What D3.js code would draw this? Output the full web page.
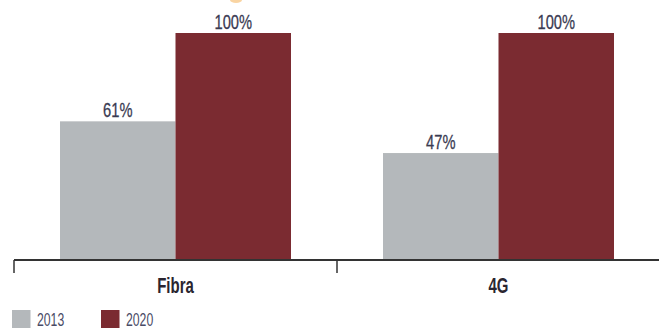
<!DOCTYPE html>
<html><head><meta charset="utf-8">
<script src="https://cdn.jsdelivr.net/npm/d3@7"></script>
<style>html,body{margin:0;padding:0;background:#fff;}svg{display:block;}</style>
</head><body>
<svg id="c" width="659" height="330"></svg>
<script>
const categories = ["Fibra", "4G"];
const seriesNames = ["2013", "2020"];
const values2013 = [61, 47];
const values2020 = [100, 100];
const valueLabels2013 = ["61%", "47%"];
const valueLabels2020 = ["100%", "100%"];
const colors = {"2013": "#b4b8bb", "2020": "#7b2b31"};

(function(){
const svg = d3.select("#c");
const baseY = 259.5, topY = 33;
const x0 = d3.scaleBand().domain(categories).range([14, 660]).padding(0);
const x1 = d3.scaleBand().domain(seriesNames).range([46, 277]).padding(0);
const y = d3.scaleLinear().domain([0, 100]).range([baseY, topY]);

const data = categories.map((c, i) => ({cat: c, vals: [
  {s: "2013", v: values2013[i], label: valueLabels2013[i]},
  {s: "2020", v: values2020[i], label: valueLabels2020[i]}
]}));

// small orange mark at top (cropped decoration)
svg.append("ellipse").attr("cx", 236).attr("cy", 0).attr("rx", 6).attr("ry", 3).attr("fill", "#f7c27a").attr("opacity", 0.7);

const g = svg.selectAll("g.cat").data(data).join("g").attr("class", "cat")
  .attr("transform", d => `translate(${x0(d.cat)},0)`);

g.selectAll("rect").data(d => d.vals).join("rect")
  .attr("x", d => x1(d.s)).attr("width", x1.bandwidth())
  .attr("y", d => y(d.v)).attr("height", d => baseY - y(d.v))
  .attr("fill", d => colors[d.s]);

g.selectAll("text.val").data(d => d.vals).join("text").attr("class", "val")
  .attr("transform", d => `translate(${x1(d.s) + x1.bandwidth()/2},${y(d.v) - 4}) scale(0.7,1)`)
  .attr("text-anchor", "middle")
  .attr("font-family", "Liberation Sans, Arial, sans-serif")
  .attr("font-size", 21).attr("fill", "#3a3b52")
  .attr("stroke", "#3a3b52").attr("stroke-width", 0.3)
  .text(d => d.label);

// axis
const axis = svg.append("g");
axis.append("line").attr("x1", 14).attr("x2", 659).attr("y1", 260).attr("y2", 260)
  .attr("stroke", "#333").attr("stroke-width", 2);
axis.selectAll("line.tick").data(categories).join("line").attr("class", "tick")
  .attr("x1", d => x0(d)).attr("x2", d => x0(d)).attr("y1", 260).attr("y2", 273)
  .attr("stroke", "#333").attr("stroke-width", 1.5);
axis.selectAll("text.lab").data(categories).join("text").attr("class", "lab")
  .attr("transform", d => `translate(${x0(d) + x0.bandwidth()/2},293) scale(0.68,1)`)
  .attr("text-anchor", "middle")
  .attr("font-family", "Liberation Sans, Arial, sans-serif")
  .attr("font-weight", "bold").attr("font-size", 22).attr("fill", "#2a2530")
  .text(d => d);

// legend
const legX = [12, 101];
const leg = svg.selectAll("g.leg").data(seriesNames).join("g").attr("class", "leg")
  .attr("transform", (d, i) => `translate(${legX[i]},310)`);
leg.append("rect").attr("width", 18.5).attr("height", 18).attr("fill", d => colors[d]);
leg.append("text").attr("transform", "translate(25,16) scale(0.68,1)")
  .attr("font-family", "Liberation Sans, Arial, sans-serif")
  .attr("font-size", 18).attr("fill", "#4a4b66").text(d => d);
})();
</script>
</body></html>
